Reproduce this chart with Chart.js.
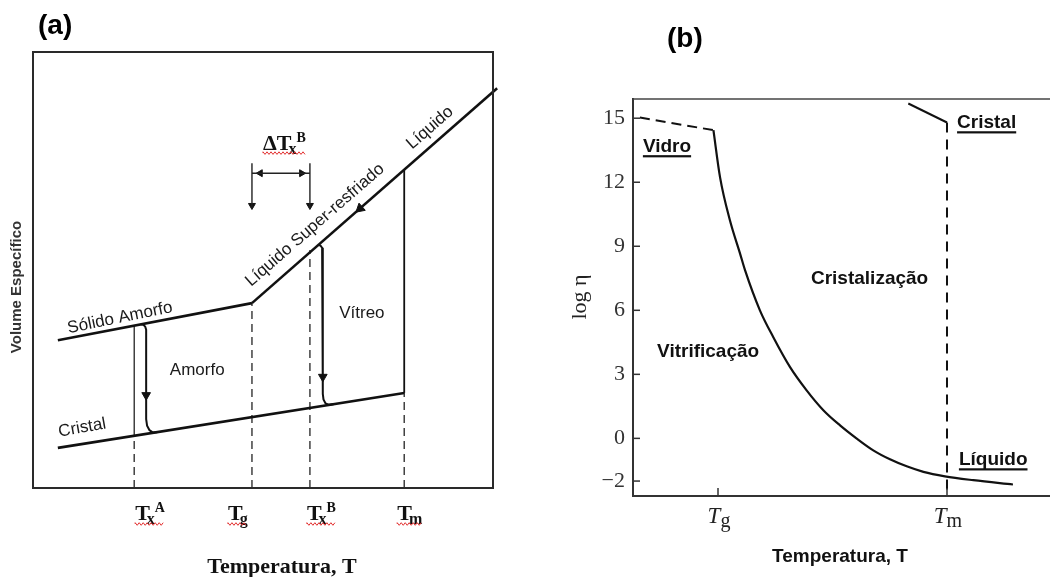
<!DOCTYPE html>
<html><head><meta charset="utf-8">
<script src="https://cdn.jsdelivr.net/npm/chart.js@4.4.1/dist/chart.umd.min.js"></script>
<style>
html,body{margin:0;padding:0;background:#fff;width:1050px;height:577px;overflow:hidden}
#ca{position:absolute;left:0;top:0}
#cb{position:absolute;left:530px;top:0}
</style></head><body>
<canvas id="ca" width="530" height="577"></canvas>
<canvas id="cb" width="520" height="577"></canvas>
<script>
// ================= Panel (a): Volume específico x Temperatura =================
const A_TICK_VALUES = [22.0, 47.6, 60.2, 80.7];
const A_TICK_SUB = ['x', 'g', 'x', 'm'];
const A_TICK_SUP = ['A', '', 'B', ''];
const A_SOLIDO_AMORFO = [{x:5.4,y:33.9},{x:47.6,y:42.4}];
const A_LIQUIDO = [{x:47.6,y:42.4},{x:100.9,y:91.7}];
const A_CRISTAL = [{x:5.4,y:9.2},{x:80.7,y:21.8}];
const A_TM_SOLID = [{x:80.7,y:21.8},{x:80.7,y:73.0}];
const A_TXA_SOLID = [{x:22.0,y:11.98},{x:22.0,y:37.24}];
const A_PATH_A = [{x:23.4,y:37.53},{x:24.0,y:37.45},{x:24.4,y:37.0},{x:24.6,y:36.3},{x:24.6,y:15.8},{x:24.8,y:14.3},{x:25.3,y:13.3},{x:26.0,y:12.75},{x:27.0,y:12.81}];
const A_PATH_B = [{x:62.0,y:55.72},{x:62.5,y:55.6},{x:62.85,y:55.1},{x:63.0,y:54.3},{x:63.0,y:21.6},{x:63.15,y:20.3},{x:63.6,y:19.4},{x:64.4,y:19.07},{x:65.5,y:19.26}];
const A_DASH_TXA = [{x:22.0,y:0},{x:22.0,y:11.98}];
const A_DASH_TG = [{x:47.6,y:0},{x:47.6,y:42.4}];
const A_DASH_TXB = [{x:60.2,y:0},{x:60.2,y:54.6}];
const A_DASH_TM = [{x:80.7,y:0},{x:80.7,y:21.8}];
const A_DELTA_LEFT = [{x:47.6,y:74.5},{x:47.6,y:64.0}];
const A_DELTA_RIGHT = [{x:60.2,y:74.5},{x:60.2,y:64.0}];
const A_DELTA_BAR = [{x:47.6,y:72.2},{x:60.2,y:72.2}];
const A_ARROWHEADS = [{x:24.6,y:21.3},{x:63.0,y:25.5},{x:47.6,y:64.8},{x:60.2,y:64.8},{x:49.4,y:72.2},{x:58.4,y:72.2},{x:71.1,y:64.1}];
const A_ARROW_ROT = [180,180,180,180,270,90,229];
const A_ARROW_SIZE = [5,5,4,4,4,4,5.5];
const A_LABELS = ['Sólido Amorfo','Cristal','Amorfo','Vítreo','Líquido Super-resfriado','Líquido'];
const A_LABEL_POS = [{x:18.9,y:39.0},{x:10.7,y:13.8},{x:35.7,y:27.1},{x:71.5,y:40.1},{x:61.3,y:60.3},{x:86.3,y:82.6}];
const A_LABEL_ROT = [-11.5,-10,0,0,-41,-41];

// ================= Panel (b): log η x Temperatura =================
const B_X_TICKS = [1, 2];
const B_X_SUB = ['g', 'm'];
const B_Y_TICKS = [15, 12, 9, 6, 3, 0, -2];
const B_VIDRO = [{x:0.659,y:15.03},{x:0.98,y:14.44}];
const B_VISCOSIDADE = [{x:0.98,y:14.44},{x:1.009,y:12.23},{x:1.052,y:10.22},{x:1.096,y:8.67},{x:1.118,y:7.88},{x:1.183,y:6.00},{x:1.241,y:4.75},{x:1.314,y:3.35},{x:1.387,y:2.25},{x:1.460,y:1.32},{x:1.533,y:0.61},{x:1.606,y:-0.01},{x:1.678,y:-0.56},{x:1.751,y:-0.98},{x:1.824,y:-1.31},{x:1.897,y:-1.57},{x:1.991,y:-1.78},{x:2.115,y:-1.96},{x:2.288,y:-2.16}];
const B_CRISTAL = [{x:1.831,y:15.69},{x:2.0,y:14.8}];
const B_TM_LINE = [{x:2.0,y:14.8},{x:2.0,y:-2.7}];
const B_LABELS = ['Vidro','Cristal','Cristalização','Vitrificação','Líquido'];
const B_LABEL_POS = [{x:0.672,y:13.41},{x:2.044,y:14.53},{x:1.406,y:7.22},{x:0.734,y:3.80},{x:2.052,y:-1.26}];
const B_LABEL_UNDERLINE = [true,true,false,false,true];

const SANS = '"Liberation Sans", Arial, sans-serif';
const SERIF = '"Liberation Serif", "Times New Roman", serif';

function line(data, w, color, dash, extra){
  return Object.assign({data, showLine:true, borderColor:color||'#111', borderWidth:w, pointRadius:0,
    borderDash:dash||[], tension:0, fill:false, clip:false}, extra||{});
}
function wavy(ctx, x0, x1, y){
  ctx.save(); ctx.strokeStyle='#e23030'; ctx.lineWidth=1; ctx.beginPath();
  let up=true; ctx.moveTo(x0,y);
  for(let x=x0; x<=x1; x+=2){ ctx.lineTo(x, y+(up?-1.3:1.3)); up=!up; }
  ctx.stroke(); ctx.restore();
}

const decorA = {
  id:'decorA',
  afterDraw(chart){
    const {ctx, chartArea:ca, scales:{x,y}} = chart;
    ctx.save();
    ctx.strokeStyle='#2a2a2a'; ctx.lineWidth=2;
    ctx.strokeRect(ca.left, ca.top, ca.right-ca.left, ca.bottom-ca.top);
    ctx.fillStyle='#1a1a1a'; ctx.font='17px '+SANS; ctx.textAlign='center'; ctx.textBaseline='middle';
    A_LABELS.forEach((t,i)=>{
      const px=x.getPixelForValue(A_LABEL_POS[i].x), py=y.getPixelForValue(A_LABEL_POS[i].y);
      ctx.save(); ctx.translate(px,py); ctx.rotate(A_LABEL_ROT[i]*Math.PI/180); ctx.fillText(t,0,0); ctx.restore();
    });
    const dx=[1,-24,-3,-7];
    ctx.textAlign='left'; ctx.textBaseline='alphabetic'; ctx.fillStyle='#111';
    A_TICK_VALUES.forEach((v,i)=>{
      const px=x.getPixelForValue(v)+dx[i], base=ca.bottom+32;
      ctx.font='bold 22px '+SERIF; ctx.fillText('T',px,base); const wT=ctx.measureText('T').width;
      ctx.font='bold 16px '+SERIF; ctx.fillText(A_TICK_SUB[i],px+wT-3,base+4); const wS=ctx.measureText(A_TICK_SUB[i]).width;
      let end=px+wT-3+wS;
      if(A_TICK_SUP[i]){ ctx.font='bold 14px '+SERIF; ctx.fillText(A_TICK_SUP[i],px+wT-3+wS,base-8); end+=ctx.measureText(A_TICK_SUP[i]).width; }
      wavy(ctx, px, end, base+4);
    });
    {
      const px=x.getPixelForValue(50.0), base=y.getPixelForValue(77.5);
      ctx.font='bold 22px '+SERIF; ctx.fillText('ΔT',px,base); const w=ctx.measureText('ΔT').width;
      ctx.font='bold 16px '+SERIF; ctx.fillText('x',px+w-3,base+4); const wx=ctx.measureText('x').width;
      ctx.font='bold 14px '+SERIF; ctx.fillText('B',px+w-3+wx,base-8); const wb=ctx.measureText('B').width;
      wavy(ctx, px, px+w-3+wx+wb, base+3);
    }
    ctx.font='bold 22px '+SERIF; ctx.textAlign='center'; ctx.fillStyle='#111';
    ctx.fillText('Temperatura, T', (ca.left+ca.right)/2+19, ca.bottom+85);
    ctx.save(); ctx.translate(17, 287); ctx.rotate(-Math.PI/2);
    ctx.font='bold 15px '+SANS; ctx.fillStyle='#333'; ctx.textBaseline='middle'; ctx.fillText('Volume Específico',0,0); ctx.restore();
    ctx.font='bold 28px '+SANS; ctx.textAlign='left'; ctx.fillStyle='#000'; ctx.textBaseline='alphabetic';
    ctx.fillText('(a)', 38, 34);
    ctx.restore();
  }
};

new Chart(document.getElementById('ca'), {
  type:'scatter',
  data:{datasets:[
    line(A_SOLIDO_AMORFO, 2.6),
    line(A_LIQUIDO, 2.6),
    line(A_CRISTAL, 2.6),
    line(A_TM_SOLID, 1.8),
    line(A_TXA_SOLID, 1.2),
    line(A_PATH_A, 2),
    line(A_PATH_B, 2),
    line(A_DASH_TXA, 1.4, '#333', [8,5]),
    line(A_DASH_TG, 1.4, '#333', [8,5]),
    line(A_DASH_TXB, 1.4, '#333', [8,5]),
    line(A_DASH_TM, 1.4, '#333', [8,5]),
    line(A_DELTA_LEFT, 1.4, '#222'),
    line(A_DELTA_RIGHT, 1.4, '#222'),
    line(A_DELTA_BAR, 1.6, '#222'),
    {data:A_ARROWHEADS, showLine:false, pointStyle:'triangle', pointRadius:A_ARROW_SIZE, pointRotation:A_ARROW_ROT,
     backgroundColor:'#111', borderColor:'#111', borderWidth:1, clip:false}
  ]},
  options:{responsive:false, animation:false, devicePixelRatio:1, events:[],
    layout:{padding:{left:33,right:37,top:52,bottom:89}},
    plugins:{legend:{display:false}, tooltip:{enabled:false}},
    scales:{x:{type:'linear',min:0,max:100,display:false}, y:{type:'linear',min:0,max:100,display:false}}
  },
  plugins:[decorA]
});

const decorB = {
  id:'decorB',
  afterDraw(chart){
    const {ctx, chartArea:ca, scales:{x,y}} = chart;
    ctx.save();
    ctx.strokeStyle='#444'; ctx.lineWidth=1.6;
    ctx.beginPath(); ctx.moveTo(ca.left, ca.top); ctx.lineTo(ca.right, ca.top); ctx.stroke();
    ctx.strokeStyle='#333'; ctx.lineWidth=1.5;
    B_Y_TICKS.forEach(v=>{ const py=y.getPixelForValue(v); ctx.beginPath(); ctx.moveTo(ca.left,py); ctx.lineTo(ca.left+7,py); ctx.stroke(); });
    B_X_TICKS.forEach(v=>{ const px=x.getPixelForValue(v); ctx.beginPath(); ctx.moveTo(px,ca.bottom); ctx.lineTo(px,ca.bottom-8); ctx.stroke(); });
    ctx.fillStyle='#222'; ctx.textAlign='left'; ctx.textBaseline='alphabetic';
    B_X_TICKS.forEach((v,i)=>{
      const px=x.getPixelForValue(v), base=ca.bottom+27;
      ctx.font='italic 23px '+SERIF; const wT=ctx.measureText('T').width;
      ctx.font='20px '+SERIF; const wS=ctx.measureText(B_X_SUB[i]).width;
      const left=px-(wT+wS)/2+1;
      ctx.font='italic 23px '+SERIF; ctx.fillText('T',left,base);
      ctx.font='20px '+SERIF; ctx.fillText(B_X_SUB[i],left+wT,base+4);
    });
    ctx.save(); ctx.translate(50, 297); ctx.rotate(-Math.PI/2);
    ctx.font='22px '+SERIF; ctx.textAlign='center'; ctx.textBaseline='middle'; ctx.fillStyle='#222';
    ctx.fillText('log η',0,0); ctx.restore();
    ctx.font='bold 19px '+SANS; ctx.textAlign='center'; ctx.fillStyle='#111';
    ctx.fillText('Temperatura, T', 310, ca.bottom+66);
    ctx.textAlign='left'; ctx.font='bold 19px '+SANS;
    B_LABELS.forEach((t,i)=>{
      const px=x.getPixelForValue(B_LABEL_POS[i].x), py=y.getPixelForValue(B_LABEL_POS[i].y);
      ctx.fillText(t,px,py);
      if(B_LABEL_UNDERLINE[i]){ const w=ctx.measureText(t).width; ctx.fillRect(px,py+3,w,2.2); }
    });
    ctx.font='bold 28px '+SANS; ctx.fillStyle='#000';
    ctx.fillText('(b)', 137, 47);
    ctx.restore();
  }
};

new Chart(document.getElementById('cb'), {
  type:'scatter',
  data:{datasets:[
    line(B_VIDRO, 2, '#111', [10,6]),
    Object.assign(line(B_VISCOSIDADE, 2.2, '#111'), {cubicInterpolationMode:'monotone'}),
    line(B_CRISTAL, 2, '#111'),
    line(B_TM_LINE, 2, '#111', [10,7])
  ]},
  options:{responsive:false, animation:false, devicePixelRatio:1, events:[],
    layout:{padding:{left:0,right:0,top:99,bottom:0}},
    plugins:{legend:{display:false}, tooltip:{enabled:false}},
    scales:{
      x:{type:'linear', min:0.6288, max:2.4498, grid:{display:false, drawTicks:false},
         border:{display:true, color:'#333', width:2}, ticks:{display:false},
         afterFit(s){ s.height=81; }},
      y:{type:'linear', min:-2.7, max:15.9, grid:{display:false, drawTicks:false},
         border:{display:true, color:'#333', width:2},
         ticks:{autoSkip:false, padding:8, color:'#333', font:{family:'Liberation Serif', size:22},
                callback:v=> v<0 ? '\u2212'+Math.abs(v) : String(v)},
         afterBuildTicks(s){ s.ticks=B_Y_TICKS.map(v=>({value:v})); },
         afterFit(s){ s.width=103; }}
    }
  },
  plugins:[decorB]
});
</script>
</body></html>
